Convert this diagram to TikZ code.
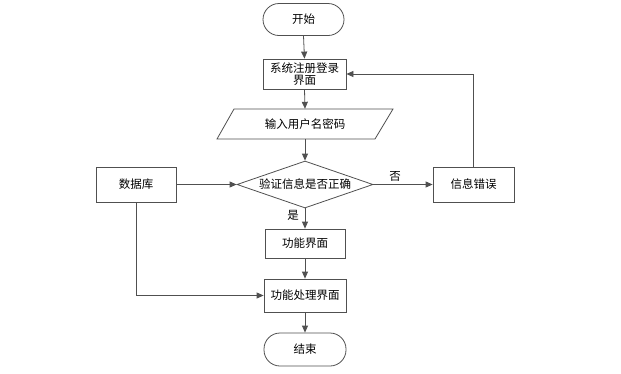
\documentclass[tikz,border=0pt]{standalone}
\usepackage{fontspec}
\newfontfamily\cjk{Noto Sans CJK SC}
\usetikzlibrary{shapes.geometric,arrows.meta}
\definecolor{linec}{HTML}{505050}
\begin{document}
\begin{tikzpicture}[x=1pt,y=-1pt,
  font=\cjk\fontsize{11.5}{13}\selectfont,
  box/.style={draw=linec, rectangle, inner sep=1pt, line width=0.8pt},
  term/.style={draw=linec, rectangle, rounded corners=16pt, inner sep=1pt, line width=0.8pt},
  conn/.style={draw=linec, line width=0.8pt, -{Triangle[length=7pt,width=6pt]}}]
\useasboundingbox (0,0) rectangle (621,373);
\node[term, minimum width=81, minimum height=32] (start) at (303.5,19.5) {开始};
\node[box, minimum width=83, minimum height=30, align=center, font=\cjk\fontsize{11.5}{12.5}\selectfont] (reg) at (304.5,74) {系统注册登录\\界面};
\node[minimum width=140, minimum height=30, inner sep=0] (inp) at (305,124) {输入用户名密码};
\draw[draw=linec, line width=0.8pt] (217,139) -- (234,109) -- (393,109) -- (375,139) -- cycle;
\node[diamond, draw=linec, line width=0.8pt, aspect=2.9, minimum width=136, minimum height=47, inner sep=0] (chk) at (305,184.5) {验证信息是否正确};
\node[box, minimum width=80, minimum height=35] (db) at (136,184.5) {数据库};
\node[box, minimum width=81, minimum height=35] (err) at (473.5,184.5) {信息错误};
\node[box, minimum width=80, minimum height=29] (func) at (305,243.5) {功能界面};
\node[box, minimum width=82, minimum height=33] (proc) at (305,295.5) {功能处理界面};
\node[term, minimum width=82, minimum height=33] (end) at (305,349.5) {结束};
\node (no) at (395,176) {否};
\node (yes) at (293,215) {是};
\draw[conn] (start.south) -- (reg.north);
\draw[conn] (reg.south) -- (inp.north);
\draw[conn] (inp.south) -- (chk.north);
\draw[conn] (db.east) -- (chk.west);
\draw[conn] (chk.east) -- (err.west);
\draw[conn] (chk.south) -- (func.north);
\draw[conn] (func.south) -- (proc.north);
\draw[conn] (proc.south) -- (end.north);
\draw[conn] (err.north) |- (reg.east);
\draw[conn] (db.south) |- (proc.west);
\end{tikzpicture}
\end{document}
